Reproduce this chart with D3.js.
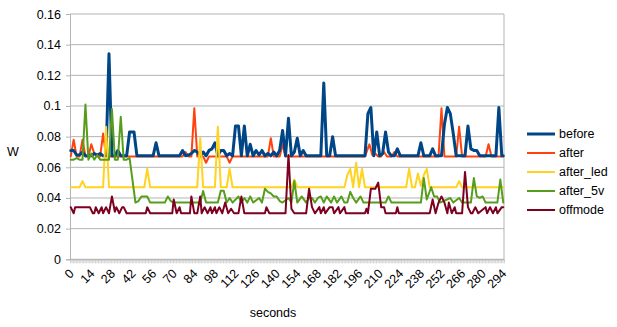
<!DOCTYPE html>
<html>
<head>
<meta charset="utf-8">
<script src="https://cdn.jsdelivr.net/npm/d3@7"></script>
<style>
  html, body { margin: 0; padding: 0; background: #fff; }
  svg { display: block; font-family: "Liberation Sans", Arial, sans-serif; }
</style>
</head>
<body>
<svg id="chart" width="617" height="327"></svg>
<script>
// Power draw (W) per second of the test run, one [second, watts] pair per reading change.
const before = [[0,0.071],[2,0.071],[4,0.068],[6,0.068],[8,0.070],[10,0.0675],[14,0.0675],[16,0.069],[18,0.068],[20,0.069],[22,0.0675],[24,0.0675],[26,0.134],[28,0.0675],[30,0.0675],[32,0.071],[34,0.0675],[38,0.0675],[40,0.083],[43,0.083],[45,0.0675],[56,0.0675],[58,0.076],[60,0.0675],[74,0.0675],[76,0.071],[78,0.0675],[80,0.068],[82,0.069],[84,0.071],[86,0.070],[88,0.0675],[90,0.070],[92,0.0675],[94,0.071],[96,0.072],[98,0.076],[100,0.0675],[102,0.071],[104,0.071],[106,0.0675],[108,0.069],[110,0.0675],[112,0.087],[114,0.087],[116,0.0675],[118,0.087],[120,0.0675],[122,0.075],[124,0.0675],[126,0.071],[128,0.068],[130,0.071],[132,0.0675],[134,0.069],[136,0.0675],[138,0.070],[140,0.0675],[142,0.071],[144,0.084],[146,0.0675],[148,0.092],[150,0.0675],[152,0.070],[154,0.079],[156,0.0675],[158,0.071],[160,0.0675],[170,0.0675],[172,0.115],[174,0.0675],[176,0.0675],[178,0.080],[180,0.0675],[200,0.0675],[202,0.095],[204,0.099],[206,0.0675],[208,0.083],[210,0.0675],[212,0.069],[214,0.083],[216,0.070],[218,0.0675],[220,0.0675],[222,0.072],[224,0.0675],[236,0.0675],[238,0.076],[240,0.0675],[244,0.0675],[246,0.072],[248,0.0675],[252,0.0675],[254,0.088],[256,0.099],[258,0.095],[260,0.082],[262,0.0675],[268,0.0675],[270,0.087],[272,0.072],[274,0.071],[276,0.071],[278,0.0675],[289,0.0675],[291,0.099],[293,0.0675],[294,0.0675]];

const after = [[0,0.0671],[2,0.078],[4,0.0671],[6,0.0671],[8,0.078],[10,0.0671],[12,0.0671],[14,0.075],[16,0.069],[18,0.0671],[20,0.0671],[22,0.082],[24,0.0671],[76,0.0671],[78,0.070],[80,0.0671],[82,0.0671],[84,0.0985],[86,0.0671],[90,0.0671],[92,0.063],[94,0.0671],[106,0.0671],[108,0.063],[110,0.0671],[134,0.0671],[136,0.079],[138,0.0671],[142,0.0671],[144,0.075],[146,0.0671],[200,0.0671],[203,0.075],[205,0.068],[207,0.069],[209,0.0671],[211,0.0671],[213,0.070],[215,0.0671],[218,0.0671],[220,0.070],[222,0.0671],[250,0.0671],[252,0.0985],[254,0.0671],[262,0.0671],[264,0.0865],[266,0.0671],[282,0.0671],[284,0.075],[286,0.0671],[294,0.0671]];

const afterLed = [[0,0.047],[6,0.047],[8,0.051],[10,0.047],[22,0.047],[24,0.0865],[26,0.047],[50,0.047],[52,0.059],[54,0.047],[86,0.047],[88,0.079],[90,0.047],[98,0.047],[100,0.0865],[102,0.047],[106,0.047],[108,0.059],[110,0.047],[150,0.047],[152,0.052],[154,0.047],[186,0.047],[188,0.055],[190,0.059],[192,0.047],[194,0.063],[196,0.047],[198,0.059],[200,0.047],[228,0.047],[230,0.059],[232,0.047],[234,0.047],[236,0.056],[238,0.048],[240,0.055],[242,0.059],[244,0.047],[262,0.047],[264,0.051],[266,0.047],[294,0.047]];

const after5v = [[0,0.065],[2,0.065],[4,0.066],[6,0.065],[8,0.065],[10,0.101],[12,0.065],[14,0.069],[16,0.065],[18,0.068],[20,0.065],[26,0.065],[28,0.098],[30,0.065],[32,0.065],[34,0.093],[36,0.065],[38,0.065],[40,0.066],[44,0.037],[46,0.038],[48,0.041],[52,0.041],[54,0.037],[64,0.037],[66,0.041],[68,0.038],[70,0.037],[88,0.037],[90,0.0445],[92,0.037],[100,0.037],[102,0.0447],[104,0.0447],[106,0.037],[108,0.040],[110,0.037],[114,0.041],[116,0.037],[118,0.040],[120,0.037],[122,0.041],[124,0.037],[128,0.040],[130,0.037],[132,0.046],[134,0.044],[136,0.043],[138,0.041],[140,0.041],[142,0.038],[144,0.037],[148,0.040],[150,0.037],[152,0.051],[154,0.037],[157,0.041],[160,0.037],[162,0.040],[164,0.040],[166,0.037],[168,0.040],[170,0.041],[172,0.037],[174,0.041],[177,0.037],[179,0.041],[181,0.037],[184,0.041],[186,0.037],[188,0.037],[190,0.044],[192,0.040],[194,0.037],[197,0.041],[199,0.037],[214,0.037],[216,0.041],[218,0.037],[238,0.037],[240,0.053],[242,0.039],[245,0.047],[247,0.041],[249,0.041],[251,0.037],[258,0.040],[260,0.037],[264,0.040],[266,0.037],[272,0.037],[274,0.053],[276,0.041],[278,0.040],[280,0.041],[282,0.037],[290,0.037],[292,0.052],[294,0.037]];

const offmode = [[0,0.034],[2,0.030],[3,0.034],[13,0.034],[15,0.030],[16,0.030],[17,0.034],[19,0.030],[21,0.034],[22,0.030],[24,0.034],[26,0.030],[28,0.041],[30,0.031],[31,0.034],[33,0.030],[35,0.034],[36,0.034],[38,0.030],[51,0.030],[52,0.034],[54,0.030],[69,0.030],[70,0.039],[72,0.030],[74,0.034],[75,0.030],[81,0.030],[82,0.041],[84,0.030],[86,0.030],[88,0.041],[89,0.030],[91,0.034],[93,0.030],[95,0.034],[96,0.030],[98,0.034],[99,0.030],[101,0.034],[103,0.030],[105,0.037],[107,0.030],[109,0.033],[111,0.030],[114,0.030],[116,0.041],[118,0.030],[132,0.030],[133,0.034],[135,0.030],[146,0.030],[148,0.068],[150,0.033],[152,0.030],[160,0.030],[162,0.046],[164,0.034],[166,0.030],[169,0.034],[170,0.030],[172,0.034],[173,0.030],[176,0.034],[178,0.034],[179,0.030],[182,0.034],[183,0.030],[186,0.034],[187,0.030],[200,0.030],[201,0.033],[202,0.030],[204,0.046],[207,0.046],[209,0.050],[211,0.034],[213,0.034],[214,0.030],[221,0.030],[222,0.034],[223,0.030],[244,0.030],[246,0.039],[248,0.030],[250,0.037],[252,0.041],[254,0.037],[256,0.030],[257,0.037],[259,0.030],[261,0.034],[262,0.030],[266,0.030],[268,0.057],[270,0.034],[272,0.030],[273,0.030],[275,0.034],[277,0.030],[282,0.034],[283,0.030],[285,0.034],[287,0.030],[289,0.034],[290,0.030],[293,0.034],[294,0.034]];

const seriesNames = ["before", "after", "after_led", "after_5v", "offmode"];
const seriesColors = ["#004586", "#ff420e", "#ffd320", "#579d1c", "#7e0021"];
const seriesWidths = [3, 2, 2, 2, 2];
const seriesData = [before, after, afterLed, after5v, offmode];
// "after" goes underneath "before" so the shared idle level reads as one blue line
const drawOrder = [1, 0, 2, 3, 4];

const yTicks = [0, 0.02, 0.04, 0.06, 0.08, 0.1, 0.12, 0.14, 0.16];
const yTickLabels = ["0", "0.02", "0.04", "0.06", "0.08", "0.1", "0.12", "0.14", "0.16"];
const xLabelSeconds = [0, 14, 28, 42, 56, 70, 84, 98, 112, 126, 140, 154, 168, 182, 196, 210, 224, 238, 252, 266, 280, 294];
const categoryCount = 295;

const svg = d3.select("#chart");
const plot = { left: 70, right: 504, top: 14, bottom: 259.3 };

// Category axis: each second is one slot, points sit in the slot centre.
const x = d3.scaleLinear().domain([-0.5, categoryCount - 0.5]).range([plot.left, plot.right]);
const y = d3.scaleLinear().domain([0, 0.16]).range([plot.bottom, plot.top]);

const grid = "#b3b3b3";

// horizontal gridlines
svg.append("g").selectAll("line").data(yTicks).join("line")
  .attr("x1", plot.left).attr("x2", plot.right)
  .attr("y1", d => y(d)).attr("y2", d => y(d))
  .attr("stroke", grid).attr("stroke-width", 1);

// right edge of the plot wall
svg.append("line")
  .attr("x1", plot.right).attr("x2", plot.right)
  .attr("y1", plot.top).attr("y2", plot.bottom)
  .attr("stroke", grid);

// y axis
const yAxis = svg.append("g")
  .attr("transform", `translate(${plot.left},0)`)
  .call(d3.axisLeft(y).tickValues(yTicks)
    .tickFormat((d, i) => yTickLabels[i]).tickSize(4).tickPadding(5));
yAxis.select(".domain").attr("stroke", grid);
yAxis.selectAll(".tick line").attr("stroke", grid);
yAxis.selectAll("text").attr("font-size", 12.5).attr("fill", "#000")
  .attr("font-family", "Liberation Sans, Arial, sans-serif");

// x axis: a tick on every category boundary
const boundaries = d3.range(categoryCount + 1).map(i => i - 0.5);
const xAxis = svg.append("g")
  .attr("transform", `translate(0,${plot.bottom})`)
  .call(d3.axisBottom(x).tickValues(boundaries).tickFormat("").tickSize(4).tickSizeOuter(0));
xAxis.select(".domain").attr("stroke", grid);
xAxis.selectAll(".tick line").attr("stroke", grid).attr("stroke-width", 0.6);

// rotated category labels
svg.append("g").selectAll("text").data(xLabelSeconds).join("text")
  .attr("transform", d => `translate(${x(d) + 4},${plot.bottom + 15}) rotate(-45)`)
  .attr("text-anchor", "end")
  .attr("font-size", 12.5)
  .attr("fill", "#000")
  .text(d => String(d));

// series lines
const line = d3.line().x(d => x(d[0])).y(d => y(d[1]));
svg.append("g").selectAll("path").data(drawOrder).join("path")
  .attr("d", i => line(seriesData[i]))
  .attr("fill", "none")
  .attr("stroke", i => seriesColors[i])
  .attr("stroke-width", i => seriesWidths[i])
  .attr("stroke-linejoin", "round")
  .attr("stroke-linecap", "round");

// axis titles
svg.append("text")
  .attr("x", 13).attr("y", 152).attr("dy", "0.35em")
  .attr("text-anchor", "middle").attr("font-size", 12.5).attr("fill", "#000")
  .text("W");
svg.append("text")
  .attr("x", 273).attr("y", 313).attr("dy", "0.35em")
  .attr("text-anchor", "middle").attr("font-size", 12.5).attr("fill", "#000")
  .text("seconds");

// legend
const legend = svg.append("g").attr("transform", "translate(527,134)");
const rows = legend.selectAll("g").data(seriesNames).join("g")
  .attr("transform", (d, i) => `translate(0,${i * 19})`);
rows.append("line")
  .attr("x1", 0).attr("x2", 28).attr("y1", 0).attr("y2", 0)
  .attr("stroke", (d, i) => seriesColors[i])
  .attr("stroke-width", (d, i) => seriesWidths[i]);
rows.append("text")
  .attr("x", 32).attr("y", 0).attr("dy", "0.35em")
  .attr("font-size", 12.5).attr("fill", "#000")
  .text(d => d);
</script>
</body>
</html>
